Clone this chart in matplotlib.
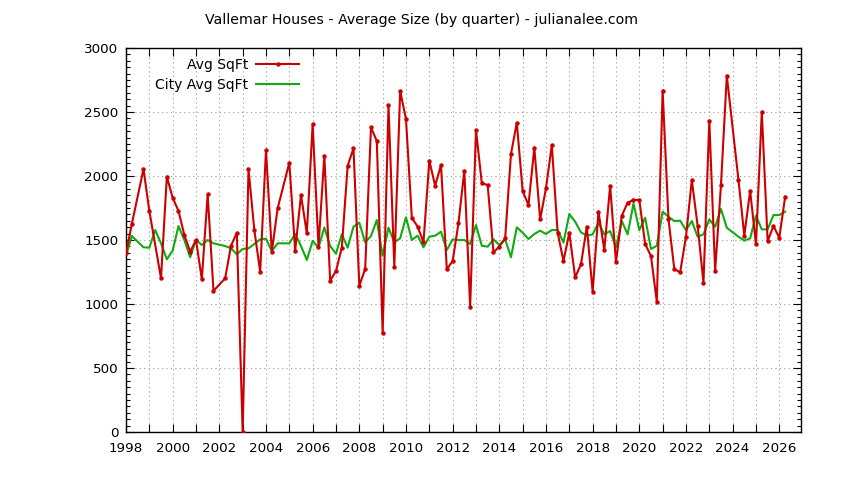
import matplotlib
matplotlib.use("Agg")
import matplotlib.pyplot as plt
from matplotlib.ticker import FixedLocator, FuncFormatter, MultipleLocator

plt.rcParams['font.family'] = ['DejaVu Sans']

title = "Vallemar Houses - Average Size (by quarter) - julianalee.com"
label_avg = "Avg SqFt"
label_city = "City Avg SqFt"

avg_x = [1998.00, 1998.25, 1998.75, 1999.00, 1999.50, 1999.75, 2000.00, 2000.25, 2000.50, 2000.75,
         2001.00, 2001.25, 2001.50, 2001.75, 2002.25, 2002.50, 2002.75, 2003.00, 2003.25, 2003.50,
         2003.75, 2004.00, 2004.25, 2004.50, 2005.00, 2005.25, 2005.50, 2005.75, 2006.00, 2006.25,
         2006.50, 2006.75, 2007.00, 2007.25, 2007.50, 2007.75, 2008.00, 2008.25, 2008.50, 2008.75,
         2009.00, 2009.25, 2009.50, 2009.75, 2010.00, 2010.25, 2010.50, 2010.75, 2011.00, 2011.25,
         2011.50, 2011.75, 2012.00, 2012.25, 2012.50, 2012.75, 2013.00, 2013.25, 2013.50, 2013.75,
         2014.00, 2014.25, 2014.50, 2014.75, 2015.00, 2015.25, 2015.50, 2015.75, 2016.00, 2016.25,
         2016.50, 2016.75, 2017.00, 2017.25, 2017.50, 2017.75, 2018.00, 2018.25, 2018.50, 2018.75,
         2019.00, 2019.25, 2019.50, 2019.75, 2020.00, 2020.25, 2020.50, 2020.75, 2021.00, 2021.25,
         2021.50, 2021.75, 2022.00, 2022.25, 2022.50, 2022.75, 2023.00, 2023.25, 2023.50, 2023.75,
         2024.25, 2024.50, 2024.75, 2025.00, 2025.25, 2025.50, 2025.75, 2026.00, 2026.25]
avg_sqft = [1396, 1625, 2055, 1727, 1201, 1995, 1830, 1727, 1539, 1409,
            1500, 1193, 1857, 1102, 1201, 1455, 1557, 0, 2055, 1578,
            1252, 2203, 1409, 1748, 2104, 1416, 1852, 1552, 2406, 1448,
            2159, 1182, 1258, 1440, 2080, 2216, 1143, 1273, 2380, 2273,
            771, 2555, 1291, 2664, 2445, 1674, 1604, 1482, 2120, 1924,
            2086, 1271, 1336, 1632, 2042, 979, 2359, 1943, 1930, 1404,
            1448, 1513, 2172, 2417, 1883, 1773, 2221, 1661, 1904, 2242,
            1557, 1336, 1557, 1208, 1310, 1604, 1096, 1721, 1422, 1924,
            1326, 1690, 1792, 1813, 1813, 1469, 1375, 1018, 2667, 1664,
            1273, 1247, 1526, 1969, 1612, 1167, 2432, 1258, 1930, 2784,
            1969, 1534, 1885, 1466, 2502, 1492, 1609, 1518, 1838]

city_x = [1998.00, 1998.25, 1998.75, 1999.00, 1999.25, 1999.50, 1999.75, 2000.00, 2000.25, 2000.50,
          2000.75, 2001.00, 2001.25, 2001.50, 2001.75, 2002.25, 2002.50, 2002.75, 2003.00, 2003.25,
          2003.50, 2003.75, 2004.00, 2004.25, 2004.50, 2005.00, 2005.25, 2005.50, 2005.75, 2006.00,
          2006.25, 2006.50, 2006.75, 2007.00, 2007.25, 2007.50, 2007.75, 2008.00, 2008.25, 2008.50,
          2008.75, 2009.00, 2009.25, 2009.50, 2009.75, 2010.00, 2010.25, 2010.50, 2010.75, 2011.00,
          2011.25, 2011.50, 2011.75, 2012.00, 2012.25, 2012.50, 2012.75, 2013.00, 2013.25, 2013.50,
          2013.75, 2014.00, 2014.25, 2014.50, 2014.75, 2015.00, 2015.25, 2015.50, 2015.75, 2016.00,
          2016.25, 2016.50, 2016.75, 2017.00, 2017.25, 2017.50, 2017.75, 2018.00, 2018.25, 2018.50,
          2018.75, 2019.00, 2019.25, 2019.50, 2019.75, 2020.00, 2020.25, 2020.50, 2020.75, 2021.00,
          2021.25, 2021.50, 2021.75, 2022.00, 2022.25, 2022.50, 2022.75, 2023.00, 2023.25, 2023.50,
          2023.75, 2024.25, 2024.50, 2024.75, 2025.00, 2025.25, 2025.50, 2025.75, 2026.00, 2026.25]
city_sqft = [1375, 1531, 1443, 1440, 1578, 1474, 1349, 1417, 1609, 1500,
             1365, 1500, 1461, 1500, 1474, 1453, 1435, 1388, 1430, 1435,
             1469, 1505, 1510, 1413, 1474, 1474, 1547, 1453, 1344, 1493,
             1440, 1598, 1453, 1393, 1546, 1440, 1604, 1635, 1482, 1531,
             1656, 1377, 1596, 1482, 1513, 1677, 1500, 1534, 1443, 1526,
             1534, 1565, 1422, 1505, 1500, 1500, 1469, 1617, 1455, 1448,
             1505, 1461, 1505, 1365, 1599, 1557, 1508, 1547, 1573, 1547,
             1578, 1578, 1480, 1703, 1643, 1560, 1534, 1544, 1635, 1544,
             1570, 1443, 1648, 1544, 1786, 1578, 1674, 1430, 1455, 1721,
             1682, 1648, 1651, 1578, 1648, 1526, 1544, 1661, 1604, 1742,
             1596, 1526, 1495, 1513, 1690, 1583, 1583, 1695, 1695, 1721]

year_ticks = list(range(1998, 2027))
y_ticks = [0, 500, 1000, 1500, 2000, 2500, 3000]

W, H = 844, 480
fig = plt.figure(figsize=(W / 100, H / 100), dpi=100)
ax = fig.add_axes([126 / W, 1 - 432 / H, (801 - 126) / W, (432 - 48) / H])

ax.plot(avg_x, avg_sqft, color='#cc0000', lw=1.5, marker='o', markersize=2.2,
        label=label_avg, zorder=3)
ax.plot(city_x, city_sqft, color='#11aa11', lw=1.5, label=label_city, zorder=2)

ax.set_xlim(1998, 2026.93)
ax.set_ylim(0, 3000)

ax.xaxis.set_major_locator(FixedLocator(year_ticks))
ax.xaxis.set_major_formatter(FuncFormatter(lambda v, p: f"{int(round(v))}" if int(round(v)) % 2 == 0 else ""))
ax.yaxis.set_major_locator(FixedLocator(y_ticks))
ax.yaxis.set_minor_locator(MultipleLocator(50))

ax.tick_params(which='both', direction='in', top=True, right=True, colors='black',
               labelsize=9.7, width=0.8)
ax.tick_params(which='major', length=5.5, pad=5.5)
ax.tick_params(which='minor', length=3)
ax.tick_params(axis='x', which='major', pad=7.5)

ax.grid(True, which='major', color='#9a9a9a', linestyle=(0, (1, 3)), linewidth=0.8, zorder=0)
for s in ax.spines.values():
    s.set_linewidth(1.0)
    s.set_color('black')

fig.text(421.5 / W, 1 - 20 / H, title, ha='center', va='center', fontsize=10.2)

leg = ax.legend(loc='upper left', bbox_to_anchor=(155 / W, 1 - 58 / H),
                bbox_transform=fig.transFigure, frameon=False, markerfirst=False,
                fontsize=10, handlelength=3.1, handletextpad=0.58, borderpad=0,
                borderaxespad=0, labelspacing=0.4)

fig.savefig("out.png", dpi=100)
